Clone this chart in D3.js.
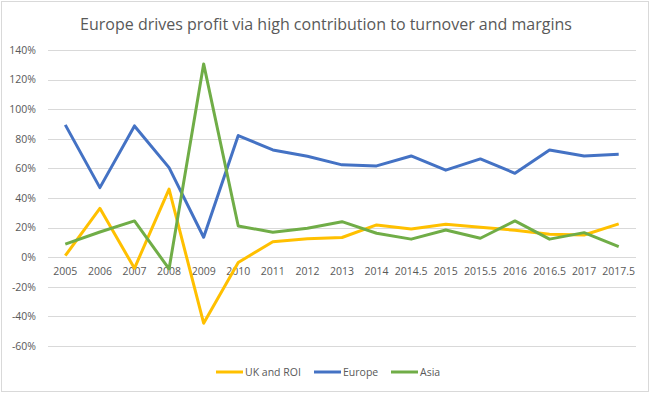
<!DOCTYPE html>
<head>
<meta charset="UTF-8">
<script src="https://d3js.org/d3.v7.min.js"></script>
<style>
  body { margin: 0; background: #fff; }
  text { font-family: "Open Sans", "Liberation Sans", sans-serif; }
</style>
</head>
<body>
<div id="my_dataviz"></div>
<script>

// categories on the x axis
var years = ["2005","2006","2007","2008","2009","2010","2011","2012","2013",
  "2014","2014.5","2015","2015.5","2016","2016.5","2017","2017.5"];

// series values (%)
var ukRoi  = [1, 33, -7.5, 46, -44.6, -3.6, 10.5, 12.4, 13.3, 21.8, 19, 22.3, 20.3, 18.2, 15.5, 15, 22.5];
var europe = [89.4, 47, 88.7, 60.5, 13.5, 82.2, 72.5, 68.2, 62.4, 61.7, 68.4, 58.8, 66.4, 56.7, 72.5, 68.4, 69.6];
var asia   = [8.8, 17, 24.5, -7.9, 130.6, 21.1, 16.9, 19.6, 24, 16.2, 12.2, 18.4, 12.8, 24.5, 12.2, 16.6, 7.2];

var yTicks = [-60, -40, -20, 0, 20, 40, 60, 80, 100, 120, 140];

var seriesNames = ["UK and ROI", "Europe", "Asia"];
var seriesColors = ["#FFC000", "#4472C4", "#70AD47"];
var seriesData = [ukRoi, europe, asia];

var W = 653, H = 393;
var margin = {top: 50, right: 17, bottom: 47, left: 48};
var width = W - margin.left - margin.right,
    height = H - margin.top - margin.bottom;

var root = d3.select("#my_dataviz")
  .append("svg")
    .attr("width", W)
    .attr("height", H);

// chart border
root.append("rect")
  .attr("x", 1.5).attr("y", 1.5)
  .attr("width", 647).attr("height", 390)
  .attr("fill", "#fff")
  .attr("stroke", "#d9d9d9");

// title
root.append("text")
  .attr("x", 326)
  .attr("y", 30)
  .attr("text-anchor", "middle")
  .style("font-size", "16px")
  .style("fill", "#595959")
  .text("Europe drives profit via high contribution to turnover and margins");

var svg = root.append("g")
  .attr("transform", "translate(" + margin.left + "," + margin.top + ")");

var x = d3.scaleBand()
  .domain(years)
  .range([0, width]);

var y = d3.scaleLinear()
  .domain([-60, 140])
  .range([height, 0]);

// gridlines
svg.append("g")
  .selectAll("line")
  .data(yTicks)
  .enter()
  .append("line")
    .attr("x1", 0)
    .attr("x2", width)
    .attr("y1", function(d) { return Math.round(y(d)) + 0.5; })
    .attr("y2", function(d) { return Math.round(y(d)) + 0.5; })
    .attr("stroke", "#d9d9d9")
    .attr("stroke-width", 1);

// y axis labels
var yAxis = svg.append("g")
  .call(d3.axisLeft(y).tickValues(yTicks).tickSize(0).tickPadding(12)
    .tickFormat(function(d) { return d + "%"; }));
yAxis.select(".domain").remove();
yAxis.selectAll("text")
  .style("font-size", "10.5px")
  .style("fill", "#595959")
  .style("font-family", "'Open Sans', 'Liberation Sans', sans-serif");

// x axis labels, sitting just below the 0% line
var xAxis = svg.append("g")
  .attr("transform", "translate(0," + y(0) + ")")
  .call(d3.axisBottom(x).tickSize(0).tickPadding(10));
xAxis.select(".domain").remove();
xAxis.selectAll("text")
  .style("font-size", "10.5px")
  .style("fill", "#595959")
  .style("font-family", "'Open Sans', 'Liberation Sans', sans-serif");

// lines
var line = d3.line()
  .x(function(d, i) { return x(years[i]) + x.bandwidth() / 2; })
  .y(function(d) { return y(d); });

seriesData.forEach(function(s, k) {
  svg.append("path")
    .datum(s)
    .attr("fill", "none")
    .attr("stroke", seriesColors[k])
    .attr("stroke-width", 3)
    .attr("stroke-linejoin", "round")
    .attr("d", line);
});

// legend
var legendX = [216, 314, 391];
var legend = root.append("g");
seriesNames.forEach(function(name, k) {
  legend.append("line")
    .attr("x1", legendX[k]).attr("x2", legendX[k] + 27)
    .attr("y1", 372).attr("y2", 372)
    .attr("stroke", seriesColors[k])
    .attr("stroke-width", 3);
  legend.append("text")
    .attr("x", legendX[k] + 29)
    .attr("y", 372)
    .attr("dy", "0.35em")
    .style("font-size", "10.5px")
    .style("fill", "#595959")
    .text(name);
});

</script>
</body>
